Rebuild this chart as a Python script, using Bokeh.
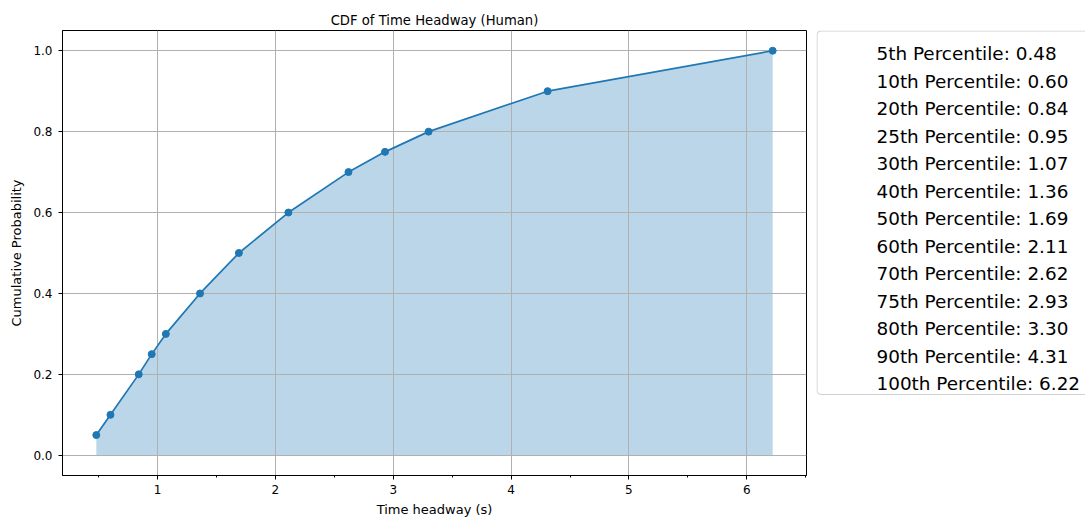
from bokeh.plotting import figure
from bokeh.layouts import row
from bokeh.models import Label, BoxAnnotation, Range1d, FixedTicker, PrintfTickFormatter
from bokeh.embed import file_html
from bokeh.resources import INLINE

# Percentiles of the human time-headway distribution
percentiles = [5, 10, 20, 25, 30, 40, 50, 60, 70, 75, 80, 90, 100]
headway_s = [0.48, 0.60, 0.84, 0.95, 1.07, 1.36, 1.69, 2.11, 2.62, 2.93, 3.30, 4.31, 6.22]
cum_prob = [p / 100 for p in percentiles]

x_ticks = [1, 2, 3, 4, 5, 6]
x_minor_ticks = [0.5, 1.5, 2.5, 3.5, 4.5, 5.5, 6.5]
y_ticks = [0.0, 0.2, 0.4, 0.6, 0.8, 1.0]

BLUE = "#1f77b4"
FONT = "DejaVu Sans"
H = 519
TOP, BOTTOM = 30, 44

p = figure(
    width=816, height=H,
    x_range=Range1d(0.193, 6.507), y_range=Range1d(-0.05, 1.05),
    output_backend="svg", toolbar_location=None,
    min_border_left=62, min_border_right=10, min_border_top=TOP, min_border_bottom=BOTTOM,
    background_fill_color="white", border_fill_color="white",
)

p.title.text = "CDF of Time Headway (Human)"
p.title.align = "center"
p.title.text_font = FONT
p.title.text_font_size = "13.2px"
p.title.text_font_style = "normal"
p.title.text_color = "black"
p.title.standoff = 6

p.outline_line_color = "black"
p.outline_line_width = 1
p.outline_line_alpha = 1

# axes
p.xaxis.ticker = FixedTicker(ticks=x_ticks, minor_ticks=x_minor_ticks)
p.yaxis.ticker = FixedTicker(ticks=y_ticks, minor_ticks=[])
p.yaxis.formatter = PrintfTickFormatter(format="%.1f")
p.xaxis.axis_label = "Time headway (s)"
p.yaxis.axis_label = "Cumulative Probability"
for ax in (p.xaxis, p.yaxis):
    ax.axis_line_color = "black"
    ax.axis_line_width = 1
    ax.major_tick_line_color = "black"
    ax.major_tick_out = 4
    ax.major_tick_in = 0
    ax.minor_tick_line_color = "black"
    ax.minor_tick_out = 2
    ax.minor_tick_in = 0
    ax.major_label_text_font = FONT
    ax.major_label_text_font_size = "12px"
    ax.major_label_text_color = "black"
    ax.axis_label_text_font = FONT
    ax.axis_label_text_font_size = "13px"
    ax.axis_label_text_font_style = "normal"
    ax.axis_label_text_color = "black"
p.xaxis.major_label_standoff = 5
p.xaxis.axis_label_standoff = 5
p.yaxis.major_label_standoff = 6
p.yaxis.axis_label_standoff = 6

p.grid.grid_line_color = "#b0b0b0"
p.grid.grid_line_width = 1

# shaded area under the CDF, kept beneath the grid
area = p.varea(x=headway_s, y1=0, y2=cum_prob, fill_color=BLUE, fill_alpha=0.3)
area.level = "image"

p.line(headway_s, cum_prob, line_color=BLUE, line_width=1.7)
p.scatter(headway_s, cum_prob, size=7, fill_color=BLUE, line_color=BLUE)

# percentile legend panel; its frame lines up with the main frame,
# and y runs in pixels measured up from the bottom of the page
LW = 1085 - 816
leg = figure(
    width=LW, height=H,
    x_range=Range1d(0, LW), y_range=Range1d(BOTTOM, H - TOP),
    output_backend="svg", toolbar_location=None,
    x_axis_location=None, y_axis_location=None,
    min_border_left=0, min_border_right=0, min_border_top=TOP, min_border_bottom=BOTTOM,
    outline_line_color=None,
    background_fill_color="white", border_fill_color="white",
)
leg.grid.visible = False
leg.add_layout(BoxAnnotation(
    left=0.5, right=400, top=H - 30.5, bottom=H - 394,
    fill_color="white", fill_alpha=0.8, line_color="#d0d0d0", line_width=1, line_alpha=1,
    border_radius=4,
))
first_baseline = H - 53
row_pitch = 27.5
for i, (pc, hw) in enumerate(zip(percentiles, headway_s)):
    leg.add_layout(Label(
        x=60, y=first_baseline - i * row_pitch,
        text=f"{pc}th Percentile: {hw:.2f}",
        text_font=FONT, text_font_size="18.4px", text_color="black",
        text_baseline="alphabetic", text_align="left",
    ))

layout = row(p, leg, spacing=0)
open("out.html", "w").write(file_html(layout, INLINE))
